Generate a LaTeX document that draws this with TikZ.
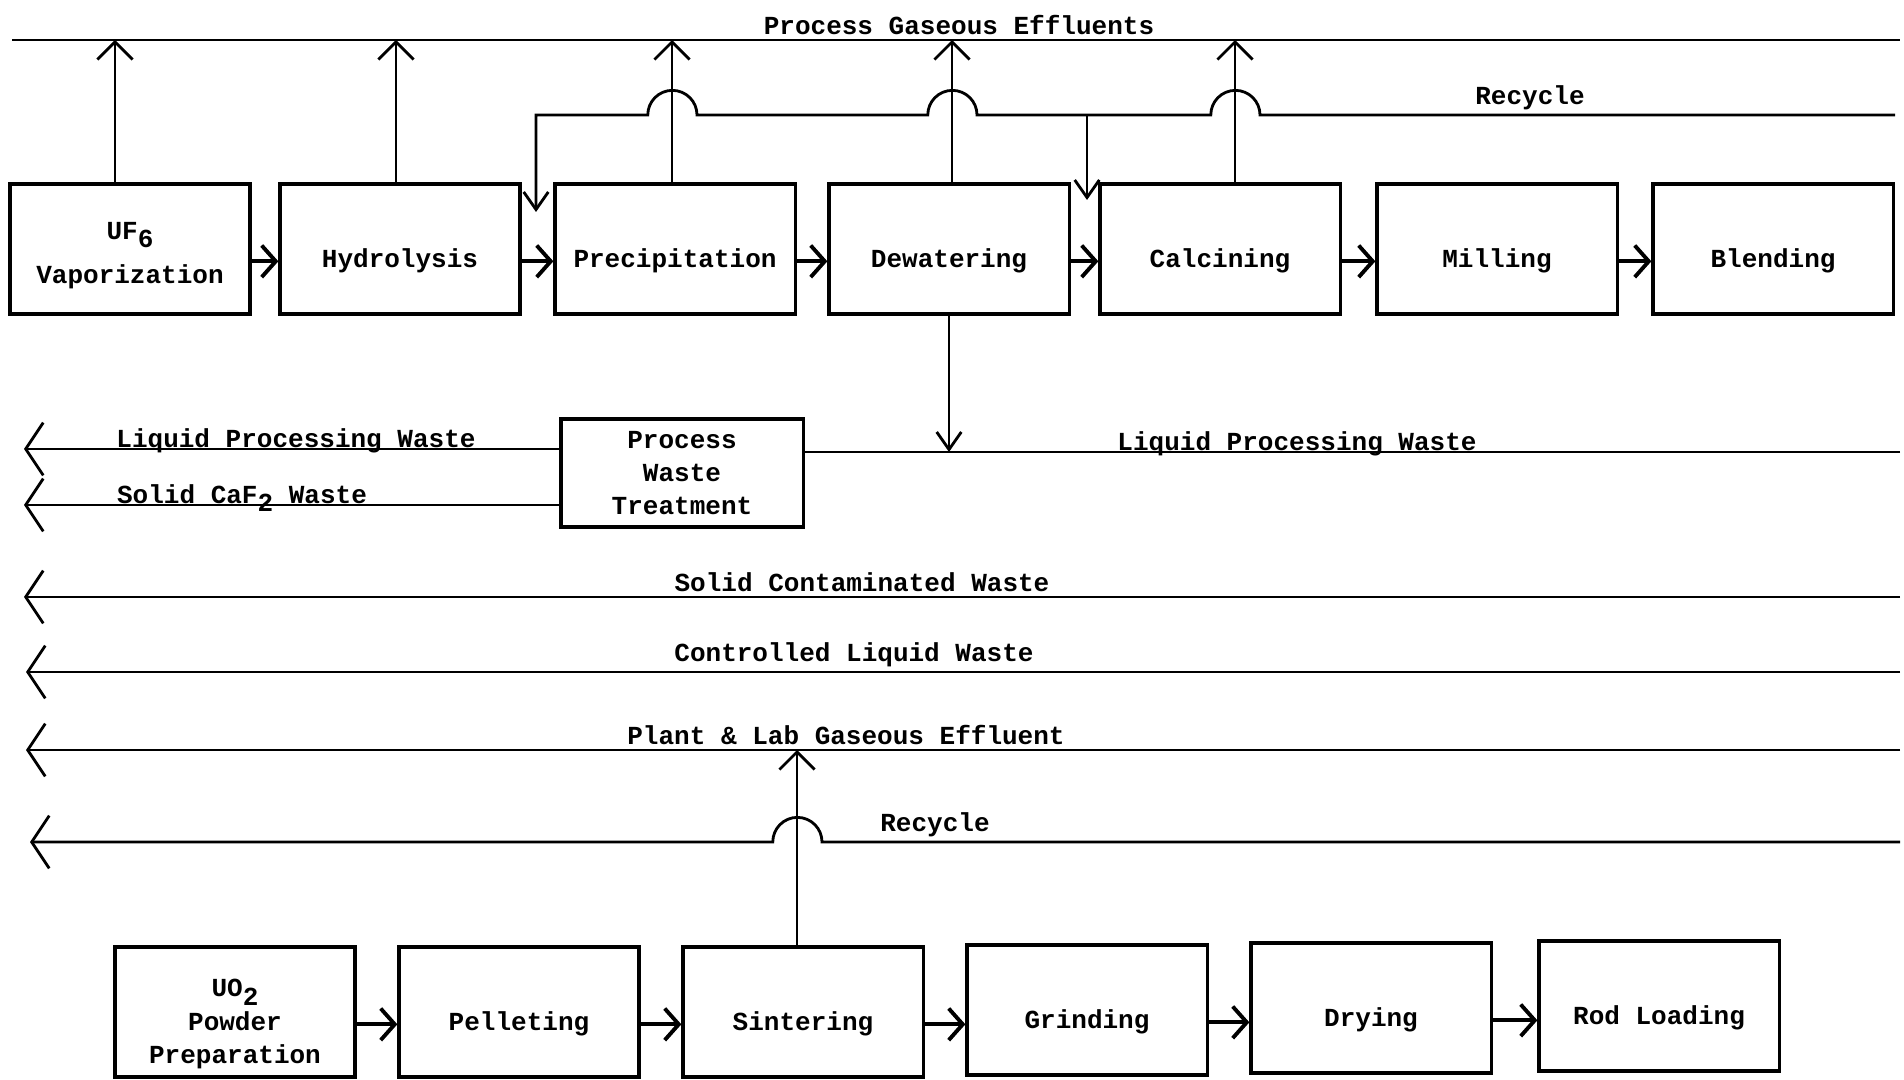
\documentclass[tikz,border=0pt]{standalone}
\usepackage{fontspec}
\setmonofont{Liberation Mono}
\usetikzlibrary{arrows.meta}

\newcommand{\lowsub}[1]{\raisebox{-0.6ex}{#1}}

\begin{document}
\begin{tikzpicture}[
  x=0.01cm, y=-0.01cm,
  line width=0.8pt,
  stage/.style={draw, line width=0.9pt, minimum width=2.4cm, minimum height=1.3cm,
    inner ysep=1pt, align=center,
    font=\fontsize{7.4}{9.5}\selectfont\ttfamily\bfseries},
  solo/.style={stage, text height=12pt},
  lbl/.style={font=\fontsize{7.4}{9.5}\selectfont\ttfamily\bfseries, anchor=south, inner sep=1pt},
  onlbl/.style={lbl, anchor=base, inner sep=0pt, yshift=0.5pt},
  flow/.style={line width=1.1pt, -{Straight Barb[length=4pt,width=9pt]}},
  gasup/.style={-{Straight Barb[length=5pt,width=10pt]}},
  drop/.style={-{Straight Barb[length=5pt,width=7pt]}},
  waste/.style={-{Straight Barb[length=5pt,width=15pt]}},
]
  \useasboundingbox (0,0) rectangle (1904,1080);

  % Conversion stages
  \node[stage] (vap) at (130,249) {\rule{0pt}{8.5pt}UF\lowsub{6}\\[3pt]Vaporization};
  \node[solo] (hyd) at (400,249) {Hydrolysis};
  \node[solo] (pre) at (675,249) {Precipitation};
  \node[solo] (dew) at (949,249) {Dewatering};
  \node[solo] (cal) at (1220,249) {Calcining};
  \node[solo] (mil) at (1497,249) {Milling};
  \node[solo] (ble) at (1773,249) {Blending};

  % Pellet stages
  \node[stage] (uo2) at (235,1012) {\rule{0pt}{12pt}UO\lowsub{2}\\Powder\\Preparation};
  \node[solo] (pel) at (519,1012) {Pelleting};
  \node[solo] (sin) at (803,1012) {Sintering};
  \node[solo] (gri) at (1087,1010) {Grinding};
  \node[solo] (dry) at (1371,1008) {Drying};
  \node[solo] (rod) at (1659,1006) {Rod Loading};

  % Waste treatment
  \node[stage, minimum width=2.42cm, minimum height=1.08cm] (pwt) at (682,473)
    {Process\\Waste\\Treatment};

  \foreach \a/\b in {vap/hyd, hyd/pre, pre/dew, dew/cal, cal/mil, mil/ble,
                     uo2/pel, pel/sin, sin/gri, gri/dry, dry/rod}
    \draw[flow] ([yshift=-3.5pt]\a.east) -- ([yshift=-3.5pt]\a.east -| \b.west);

  % Process gaseous effluents
  \coordinate (gasL) at (12,40);
  \coordinate (gasR) at (1900,40);
  \draw (gasL) -- (gasR);
  \node[lbl] (gaslab) at (959,40) {Process Gaseous Effluents};
  \coordinate (g1) at (115,40);
  \coordinate (g2) at (396,40);
  \coordinate (g3) at (672,40);
  \coordinate (g4) at (952,40);
  \coordinate (g5) at (1235,40);
  \draw[gasup] (vap.north -| g1) -- (g1);
  \draw[gasup] (hyd.north -| g2) -- (g2);
  \draw[gasup] (pre.north -| g3) -- (g3);
  \draw[gasup] (dew.north -| g4) -- (g4);
  \draw[gasup] (cal.north -| g5) -- (g5);

  % Recycle (top)
  \coordinate (recR) at (1895,115);
  \coordinate (recA) at (536,212);
  \coordinate (recB) at (1087,200);
  \draw[drop] (recR) -- (1260,115) arc[start angle=0, end angle=180, radius=7pt]
    -- (977,115) arc[start angle=0, end angle=180, radius=7pt]
    -- (697,115) arc[start angle=0, end angle=180, radius=7pt]
    -- (recA |- recR) -- (recA);
  \draw[drop] (recB |- recR) -- (recB);
  \node[lbl] (reclab) at (1530,115) {Recycle};

  % Liquid processing waste and treatment
  \coordinate (lpwR) at (1900,452);
  \coordinate (lpwL) at (24,449);
  \coordinate (cafL) at (24,505);
  \draw (lpwR) -- (lpwR -| pwt.east);
  \draw[drop] (dew.south) -- (dew.south |- lpwR);
  \draw[waste] (pwt.west |- lpwL) -- (lpwL);
  \draw[waste] (pwt.west |- cafL) -- (cafL);
  \node[onlbl] (lpwlab) at (1297,452) {Liquid Processing Waste};
  \node[onlbl] (lpwlab2) at (296,449) {Liquid Processing Waste};
  \node[onlbl] (caflab) at (242,505) {Solid CaF\lowsub{2} Waste};

  % Plant wastes
  \coordinate (scwR) at (1900,597);
  \coordinate (scwL) at (24,597);
  \coordinate (clwR) at (1900,672);
  \coordinate (clwL) at (26,672);
  \coordinate (pgeR) at (1900,750);
  \coordinate (pgeL) at (26,750);
  \coordinate (pgeU) at (797,750);
  \coordinate (recbR) at (1900,842);
  \coordinate (recbL) at (30,842);
  \draw[waste] (scwR) -- (scwL);
  \draw[waste] (clwR) -- (clwL);
  \draw[waste] (pgeR) -- (pgeL);
  \draw[gasup] (sin.north -| pgeU) -- (pgeU);
  \draw[waste] (recbR) -- (822,842) arc[start angle=0, end angle=180, radius=7pt] -- (recbL);
  \node[lbl] (scwlab) at (862,597) {Solid Contaminated Waste};
  \node[lbl] (clwlab) at (854,672) {Controlled Liquid Waste};
  \node[lbl] (pgelab) at (846,750) {Plant \& Lab Gaseous Effluent};
  \node[lbl] (recblab) at (935,842) {Recycle};

\end{tikzpicture}
\end{document}
